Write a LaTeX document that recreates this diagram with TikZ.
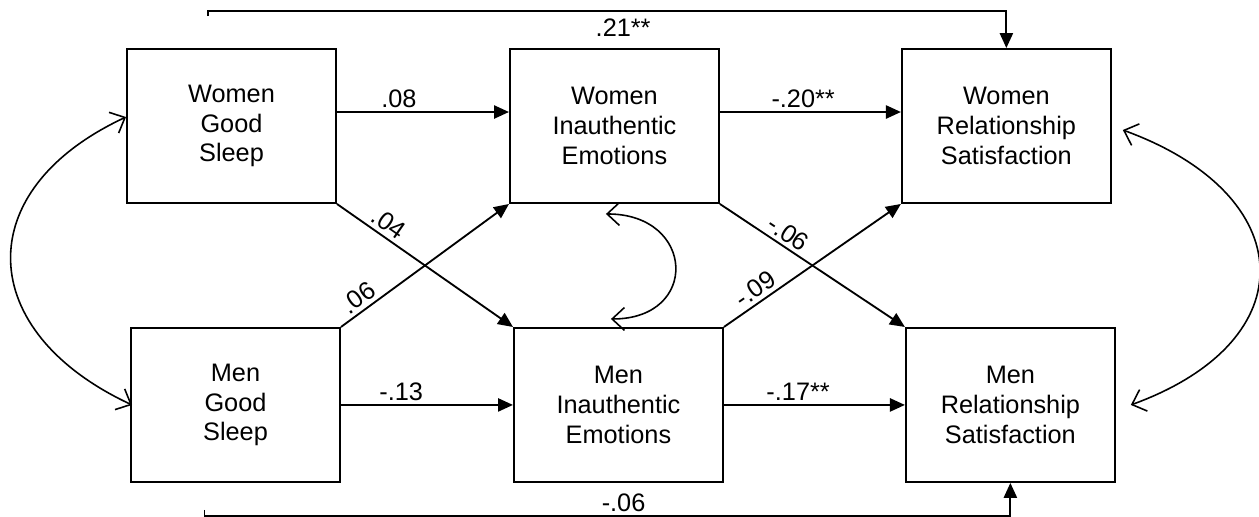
\documentclass[tikz,border=0pt]{standalone}
\usepackage{fontspec}
\setmainfont{Liberation Sans}
\usetikzlibrary{arrows.meta,positioning}

\begin{document}
\begin{tikzpicture}[
  font=\fontsize{14.4}{17}\selectfont,
  bx/.style={draw, line width=1.1pt, align=center, minimum width=4.18cm, minimum height=3.08cm, inner sep=0pt},
  arr/.style={-{Triangle[length=8.5pt, width=7.5pt]}, line width=1.05pt},
  cov/.style={{Straight Barb[length=7pt, width=13pt]}-{Straight Barb[length=7pt, width=13pt]}, line width=0.9pt},
  lbl/.style={inner sep=2pt},
]
\useasboundingbox (0,0) rectangle (25.18,-10.32);
\node[bx] (wgs) at (4.63,-2.52) {Women\\Good\\Sleep};
\node[bx, right=3.44cm of wgs] (wie) {Women\\Inauthentic\\Emotions};
\node[bx, right=3.62cm of wie] (wrs) {Women\\Relationship\\Satisfaction};
\node[bx, below=2.46cm of wgs, xshift=0.08cm] (mgs) {Men\\Good\\Sleep};
\node[bx, right=3.44cm of mgs] (mie) {Men\\Inauthentic\\Emotions};
\node[bx, right=3.62cm of mie] (mrs) {Men\\Relationship\\Satisfaction};
% paths within rows
\draw[arr] ([yshift=0.28cm]wgs.east) -- node[lbl, above, pos=0.36] {.08} ([yshift=0.28cm]wie.west);
\draw[arr] ([yshift=0.28cm]wie.east) -- node[lbl, above, pos=0.46] {-.20**} ([yshift=0.28cm]wrs.west);
\draw[arr] (mgs.east) -- node[lbl, above, pos=0.35] {-.13} (mie.west);
\draw[arr] (mie.east) -- node[lbl, above, pos=0.41] {-.17**} (mrs.west);
% cross paths
\draw[arr] (wgs.south east) -- node[lbl, above, sloped, pos=0.25] {.04} (mie.north west);
\draw[arr] (mgs.north east) -- node[lbl, above, sloped, pos=0.15] {.06} (wie.south west);
\draw[arr] (wie.south east) -- node[lbl, above, sloped, pos=0.33] {-.06} (mrs.north west);
\draw[arr] (mie.north east) -- node[lbl, above, sloped, pos=0.22] {-.09} (wrs.south west);
% direct paths
\coordinate (tstart) at ([xshift=-0.47cm, yshift=0.64cm]wgs.north);
\draw[arr] (tstart) -- ++(0,0.1) -| node[lbl, below=2pt, pos=0.26] {.21**} (wrs.north);
\coordinate (bstart) at ([xshift=-0.62cm, yshift=-0.54cm]mgs.south);
\draw[arr] (bstart) -- ++(0,-0.12) -| node[lbl, above, pos=0.26] {-.06} (mrs.south);
% covariances
\draw[cov] ([yshift=0.18cm]wgs.west) to[out=205, in=155, looseness=1.54] ([xshift=0.04cm]mgs.west);
\draw[cov] ([xshift=-0.17cm, yshift=-0.2cm]wie.south) to[out=0, in=0, looseness=2.17] ([xshift=-0.15cm, yshift=0.16cm]mie.north);
\draw[cov] ([xshift=0.22cm, yshift=-0.08cm]wrs.east) to[out=-20, in=20, looseness=1.75] ([xshift=0.3cm]mrs.east);
\end{tikzpicture}
\end{document}
